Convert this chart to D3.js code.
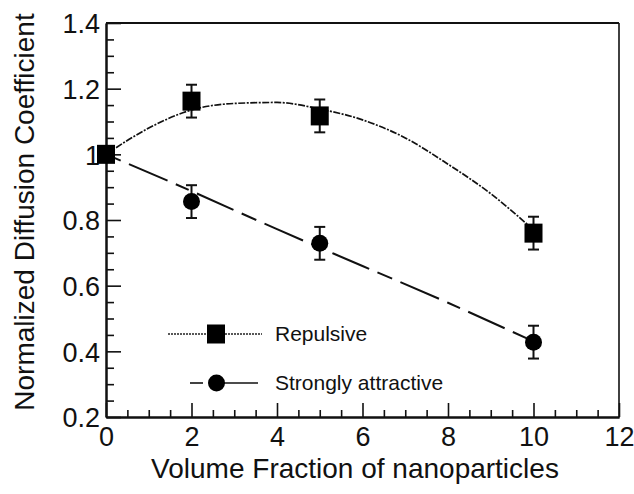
<!DOCTYPE html>
<html>
<head>
<meta charset="utf-8">
<script src="https://cdn.jsdelivr.net/npm/d3@7/dist/d3.min.js"></script>
<style>
  html, body { margin: 0; padding: 0; background: #fff; }
  svg { display: block; font-family: "Liberation Sans", Arial, sans-serif; }
</style>
</head>
<body>
<svg id="chart" width="634" height="494"></svg>
<script>
// ---- data ----
const volumeFraction = [0, 2, 5, 10];
const repulsive      = [1.0, 1.162, 1.117, 0.76];
const repulsiveErr   = [0, 0.05, 0.05, 0.05];
const attractive     = [1.0, 0.856, 0.729, 0.428];
const attractiveErr  = [0, 0.05, 0.05, 0.05];

// fitted guide curves
const repFitX = [0, 1, 2, 3, 4, 5, 6, 7, 8, 9, 10];
const repFitY = [1.0, 1.08, 1.135, 1.155, 1.158, 1.138, 1.105, 1.05, 0.97, 0.88, 0.77];
const attFitX = [0, 2, 4, 6, 8, 10];
const attFitY = [1.0, 0.888, 0.772, 0.66, 0.548, 0.43];

const xTicks = [0, 2, 4, 6, 8, 10, 12];
const yTicks = [0.2, 0.4, 0.6, 0.8, 1.0, 1.2, 1.4];
const yTickLabels = ["0.2", "0.4", "0.6", "0.8", "1", "1.2", "1.4"];
const seriesNames = ["Repulsive", "Strongly attractive"];
const xTitle = "Volume Fraction of nanoparticles";
const yTitle = "Normalized Diffusion Coefficient";

// ---- layout ----
const svg = d3.select("#chart");
const x = d3.scaleLinear().domain([0, 12]).range([106, 619]);
const y = d3.scaleLinear().domain([0.2, 1.4]).range([417, 23]);

// minor ticks
const xMinor = d3.range(0, 12.001, 0.5).filter(v => Math.abs(v / 2 - Math.round(v / 2)) > 1e-6);
const yMinor = d3.range(0.2, 1.4001, 0.05).filter(v => Math.abs(v / 0.2 - Math.round(v / 0.2)) > 1e-6);

const gx = svg.append("g").attr("transform", `translate(0,${y(0.2)})`)
  .call(d3.axisBottom(x).tickValues(xTicks).tickSizeInner(-14).tickSizeOuter(0).tickPadding(10).tickFormat(d3.format("d")));
const gxm = svg.append("g").attr("transform", `translate(0,${y(0.2)})`)
  .call(d3.axisBottom(x).tickValues(xMinor).tickSizeInner(-7).tickSizeOuter(0).tickFormat(""));
const gy = svg.append("g").attr("transform", `translate(${x(0)},0)`)
  .call(d3.axisLeft(y).tickValues(yTicks).tickSizeInner(-15).tickSizeOuter(0).tickPadding(6)
    .tickFormat((d, i) => yTickLabels[i]));
const gym = svg.append("g").attr("transform", `translate(${x(0)},0)`)
  .call(d3.axisLeft(y).tickValues(yMinor).tickSizeInner(-8).tickSizeOuter(0).tickFormat(""));

[gx, gxm, gy, gym].forEach(g => {
  g.selectAll("path.domain").attr("stroke", "#111").attr("stroke-width", 2);
  g.selectAll(".tick line").attr("stroke", "#111").attr("stroke-width", 1.6);
  g.selectAll("text").attr("fill", "#111").style("font-size", "27px").attr("font-family", null);
});
gy.selectAll("text").attr("dy", "0.36em");

// top and right frame
svg.append("line").attr("x1", x(0)).attr("x2", x(12)).attr("y1", y(1.4)).attr("y2", y(1.4))
  .attr("stroke", "#111").attr("stroke-width", 2);
svg.append("line").attr("x1", x(12)).attr("x2", x(12)).attr("y1", y(1.4)).attr("y2", y(0.2))
  .attr("stroke", "#111").attr("stroke-width", 1.6);

// axis titles
svg.append("text").attr("x", 355).attr("y", 478).attr("text-anchor", "middle")
  .style("font-size", "28px").attr("fill", "#111").text(xTitle);
svg.append("text").attr("transform", "translate(34,212) rotate(-90)").attr("text-anchor", "middle")
  .style("font-size", "28px").attr("fill", "#111").text(yTitle);

// fit curves
svg.append("path")
  .datum(repFitX.map((v, i) => [v, repFitY[i]]))
  .attr("d", d3.line().x(d => x(d[0])).y(d => y(d[1])).curve(d3.curveMonotoneX))
  .attr("fill", "none").attr("stroke", "#111").attr("stroke-width", 1.7)
  .attr("stroke-dasharray", "7,1.5,2,1.5");
svg.append("path")
  .datum(attFitX.map((v, i) => [v, attFitY[i]]))
  .attr("d", d3.line().x(d => x(d[0])).y(d => y(d[1])).curve(d3.curveMonotoneX))
  .attr("fill", "none").attr("stroke", "#111").attr("stroke-width", 2)
  .attr("stroke-dasharray", "16,9,42,9,14,9,40,9");

// error bars
function errorBars(vals, errs) {
  const g = svg.append("g").attr("stroke", "#111").attr("stroke-width", 2);
  volumeFraction.forEach((xv, i) => {
    if (!errs[i]) return;
    const cx = x(xv), y1 = y(vals[i] + errs[i]), y2 = y(vals[i] - errs[i]);
    g.append("line").attr("x1", cx).attr("x2", cx).attr("y1", y1).attr("y2", y2);
    g.append("line").attr("x1", cx - 5.5).attr("x2", cx + 5.5).attr("y1", y1).attr("y2", y1);
    g.append("line").attr("x1", cx - 5.5).attr("x2", cx + 5.5).attr("y1", y2).attr("y2", y2);
  });
}
errorBars(attractive, attractiveErr);
errorBars(repulsive, repulsiveErr);

// markers
svg.append("g").selectAll("circle").data(volumeFraction).join("circle")
  .attr("cx", d => x(d)).attr("cy", (d, i) => y(attractive[i])).attr("r", 8.5).attr("fill", "#000");
svg.append("g").selectAll("rect").data(volumeFraction).join("rect")
  .attr("x", d => x(d) - 9).attr("y", (d, i) => y(repulsive[i]) - 9.5)
  .attr("width", 18).attr("height", 19).attr("fill", "#000");

// legend
const lg = svg.append("g");
lg.append("line").attr("x1", 168).attr("x2", 262).attr("y1", 334).attr("y2", 334)
  .attr("stroke", "#222").attr("stroke-width", 1.4).attr("stroke-dasharray", "2,1");
lg.append("rect").attr("x", 207).attr("y", 324.5).attr("width", 18).attr("height", 19).attr("fill", "#000");
lg.append("text").attr("x", 275).attr("y", 341).style("font-size", "21px").attr("fill", "#111").text(seriesNames[0]);

lg.append("line").attr("x1", 190).attr("x2", 203).attr("y1", 383).attr("y2", 383)
  .attr("stroke", "#111").attr("stroke-width", 1.6);
lg.append("line").attr("x1", 210).attr("x2", 258).attr("y1", 383).attr("y2", 383)
  .attr("stroke", "#111").attr("stroke-width", 1.6);
lg.append("circle").attr("cx", 216.5).attr("cy", 383).attr("r", 8.5).attr("fill", "#000");
lg.append("text").attr("x", 275).attr("y", 390).style("font-size", "21px").attr("fill", "#111").text(seriesNames[1]);
</script>
</body>
</html>
